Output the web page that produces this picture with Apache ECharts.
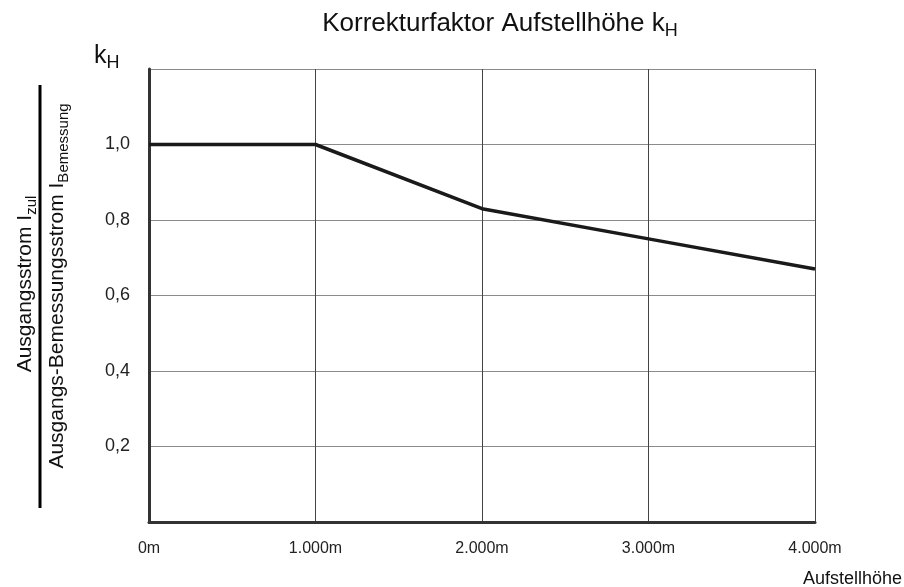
<!DOCTYPE html>
<html>
<head>
<meta charset="utf-8">
<script src="https://cdn.jsdelivr.net/npm/echarts@6/dist/echarts.min.js"></script>
<style>
  html, body { margin: 0; padding: 0; background: #fff; }
  #chart { width: 904px; height: 587px; }
</style>
</head>
<body>
<div id="chart"></div>
<script>
// Aufstellhöhe in m und Korrekturfaktor kH
const heights = [0, 1000, 2000, 3000, 4000];
const factors = [1.0, 1.0, 0.83, 0.75, 0.67];

const xTickLabels = ['0m', '1.000m', '2.000m', '3.000m', '4.000m'];
const yTickLabels = ['', '0,2', '0,4', '0,6', '0,8', '1,0', ''];

const font = "'Liberation Sans', Arial, sans-serif";

let chartDom = document.getElementById('chart');
let myChart = echarts.init(chartDom);
let option;

option = {
  animation: false,
  grid: {
    left: 149,
    right: 89,
    top: 69,
    bottom: 65,
  },
  xAxis: {
    type: 'value',
    min: 0,
    max: 4000,
    interval: 1000,
    axisLine: { show: true, onZero: false, lineStyle: { color: '#333', width: 3 } },
    axisTick: { show: false },
    axisLabel: {
      margin: 19,
      fontSize: 16,
      fontFamily: font,
      color: '#222',
      formatter: (v) => xTickLabels[Math.round(v / 1000)],
    },
    splitLine: { show: true, lineStyle: { color: '#444', width: 1 } },
  },
  yAxis: {
    type: 'value',
    min: 0,
    max: 1.2,
    interval: 0.2,
    axisLine: { show: true, onZero: false, lineStyle: { color: '#333', width: 3 } },
    axisTick: { show: false },
    axisLabel: {
      margin: 19,
      fontSize: 18,
      fontFamily: font,
      color: '#222',
      formatter: (v, i) => yTickLabels[Math.round(v / 0.2)],
    },
    splitLine: { show: true, lineStyle: { color: '#8a8a8a', width: 1 } },
  },
  graphic: [
    {
      type: 'text',
      x: 500,
      y: 24,
      style: {
        text: '{m|Korrekturfaktor Aufstellhöhe k}{s|H}',
        textAlign: 'center',
        textVerticalAlign: 'middle',
        fill: '#111',
        rich: {
          m: { fontSize: 26, fontFamily: font, fill: '#111', lineHeight: 32 },
          s: { fontSize: 18, fontFamily: font, fill: '#111', lineHeight: 18, verticalAlign: 'bottom' },
        },
      },
    },
    {
      type: 'text',
      x: 94,
      y: 56,
      style: {
        text: '{m|k}{s|H}',
        textAlign: 'left',
        textVerticalAlign: 'middle',
        fill: '#111',
        rich: {
          m: { fontSize: 25, fontFamily: font, fill: '#111', lineHeight: 32 },
          s: { fontSize: 18, fontFamily: font, fill: '#111', lineHeight: 18, verticalAlign: 'bottom' },
        },
      },
    },
    {
      type: 'line',
      shape: { x1: 40, y1: 85, x2: 40, y2: 508 },
      style: { stroke: '#000', lineWidth: 3 },
    },
    {
      type: 'text',
      x: 25,
      y: 284,
      rotation: Math.PI / 2,
      style: {
        text: '{m|Ausgangsstrom I}{s|zul}',
        textAlign: 'center',
        textVerticalAlign: 'middle',
        fill: '#111',
        rich: {
          m: { fontSize: 21, fontFamily: font, fill: '#111', lineHeight: 28 },
          s: { fontSize: 15, fontFamily: font, fill: '#111', lineHeight: 15, verticalAlign: 'bottom' },
        },
      },
    },
    {
      type: 'text',
      x: 57,
      y: 286,
      rotation: Math.PI / 2,
      style: {
        text: '{m|Ausgangs-Bemessungsstrom I}{s|Bemessung}',
        textAlign: 'center',
        textVerticalAlign: 'middle',
        fill: '#111',
        rich: {
          m: { fontSize: 21, fontFamily: font, fill: '#111', lineHeight: 28 },
          s: { fontSize: 15, fontFamily: font, fill: '#111', lineHeight: 15, verticalAlign: 'bottom' },
        },
      },
    },
    {
      type: 'text',
      right: 2,
      top: 570,
      style: {
        text: 'Aufstellhöhe',
        fontSize: 18,
        fontFamily: font,
        fill: '#111',
      },
    },
  ],
  series: [
    {
      type: 'line',
      data: heights.map((h, i) => [h, factors[i]]),
      symbol: 'none',
      lineStyle: { color: '#1a1a1a', width: 3.5 },
    },
  ],
};

option && myChart.setOption(option);
</script>
</body>
</html>
